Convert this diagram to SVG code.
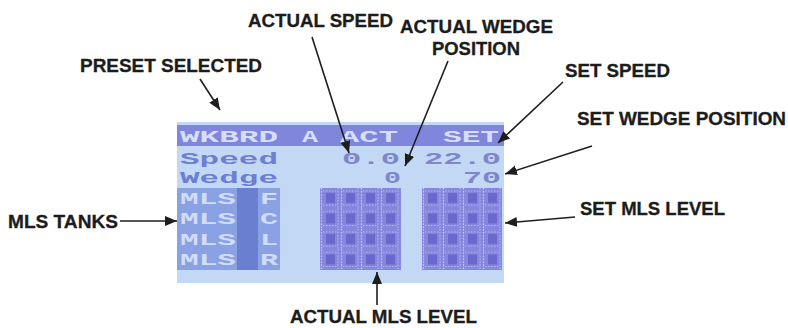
<svg xmlns="http://www.w3.org/2000/svg" width="788" height="328" viewBox="0 0 788 328">
<style>
.lbl{font-family:"Liberation Sans",Arial,sans-serif;font-weight:bold;font-size:18px;fill:#1c1c1c;stroke:#1c1c1c;stroke-width:0.3}
.lcd{font-family:"Liberation Mono","DejaVu Sans Mono",monospace;font-weight:bold;font-size:17px}
.hd{fill:#d6def9}
.bd{fill:#6c7fd2}
.num{fill:#7f86c9}
.mls{fill:#d0dcf8}
.con{stroke:#1e1e1e;stroke-width:1.6;fill:none;marker-end:url(#ah)}
</style>
<defs>
<marker id="ah" markerUnits="userSpaceOnUse" markerWidth="14" markerHeight="12" refX="12" refY="5" orient="auto">
<path d="M0,0 L12,5 L0,10 Z" fill="#1e1e1e"/>
</marker>
<pattern id="bars" patternUnits="userSpaceOnUse" x="320" y="188" width="20" height="20.5">
<rect width="20" height="20.5" fill="#8586dc"/>
<rect x="6" y="5" width="9" height="10" fill="#6a68cc"/>
<line x1="1.5" y1="0" x2="1.5" y2="20.5" stroke="#cdd4fa" stroke-width="1.2" stroke-dasharray="1.5,1.5"/>
<line x1="18" y1="0" x2="18" y2="20.5" stroke="#b9c0f4" stroke-width="1" stroke-dasharray="1.5,1.5"/>
<line x1="3" y1="3" x2="17" y2="3" stroke="#b4bcf2" stroke-width="1" stroke-dasharray="1.5,1.5"/>
<line x1="3" y1="17" x2="17" y2="17" stroke="#b4bcf2" stroke-width="1" stroke-dasharray="1.5,1.5"/>
</pattern>
<pattern id="bars2" href="#bars" x="422"/>
</defs>
<rect width="788" height="328" fill="#ffffff"/>

<g id="screen">
<rect x="177" y="122" width="327" height="161" fill="#c3d8f4"/>
<rect x="177" y="125" width="327" height="21" fill="#7f86dc"/>
<rect x="177" y="188" width="103" height="82" fill="#8aa1e3"/>
<rect x="237" y="188" width="21" height="82" fill="#6b7fd0"/>
<rect x="320" y="188" width="81" height="82" fill="url(#bars)"/>
<rect x="422" y="188" width="80" height="82" fill="url(#bars2)"/>
<g class="lcd">
<text class="hd" x="180" y="142" textLength="98" lengthAdjust="spacingAndGlyphs">WKBRD</text>
<text class="hd" x="302" y="142" textLength="16" lengthAdjust="spacingAndGlyphs">A</text>
<text class="hd" x="340" y="142" textLength="58" lengthAdjust="spacingAndGlyphs">ACT</text>
<text class="hd" x="443" y="142" textLength="56" lengthAdjust="spacingAndGlyphs">SET</text>
<text class="bd" x="180" y="164" textLength="98" lengthAdjust="spacingAndGlyphs">Speed</text>
<text class="num" x="342" y="164" textLength="58" lengthAdjust="spacingAndGlyphs">0.0</text>
<text class="num" x="424" y="164" textLength="77" lengthAdjust="spacingAndGlyphs">22.0</text>
<text class="bd" x="180" y="183" textLength="98" lengthAdjust="spacingAndGlyphs">Wedge</text>
<text class="num" x="384" y="183" textLength="17" lengthAdjust="spacingAndGlyphs">0</text>
<text class="num" x="463" y="183" textLength="38" lengthAdjust="spacingAndGlyphs">70</text>
<text class="mls" x="180" y="204" textLength="56" lengthAdjust="spacingAndGlyphs">MLS</text>
<text class="mls" x="260" y="204" textLength="18" lengthAdjust="spacingAndGlyphs">F</text>
<text class="mls" x="180" y="224" textLength="56" lengthAdjust="spacingAndGlyphs">MLS</text>
<text class="mls" x="260" y="224" textLength="18" lengthAdjust="spacingAndGlyphs">C</text>
<text class="mls" x="180" y="245" textLength="56" lengthAdjust="spacingAndGlyphs">MLS</text>
<text class="mls" x="260" y="245" textLength="18" lengthAdjust="spacingAndGlyphs">L</text>
<text class="mls" x="180" y="265" textLength="56" lengthAdjust="spacingAndGlyphs">MLS</text>
<text class="mls" x="260" y="265" textLength="18" lengthAdjust="spacingAndGlyphs">R</text>
</g>
</g>

<g id="preset-selected"><text class="lbl" x="80" y="72" textLength="182" lengthAdjust="spacingAndGlyphs">PRESET SELECTED</text></g>
<g id="actual-speed"><text class="lbl" x="248" y="27" textLength="145" lengthAdjust="spacingAndGlyphs">ACTUAL SPEED</text></g>
<g id="actual-wedge-position">
<text class="lbl" x="400" y="33" textLength="153" lengthAdjust="spacingAndGlyphs">ACTUAL WEDGE</text>
<text class="lbl" x="432" y="55" textLength="88" lengthAdjust="spacingAndGlyphs">POSITION</text>
</g>
<g id="set-speed"><text class="lbl" x="565" y="77" textLength="105" lengthAdjust="spacingAndGlyphs">SET SPEED</text></g>
<g id="set-wedge-position"><text class="lbl" x="577" y="125" textLength="209" lengthAdjust="spacingAndGlyphs">SET WEDGE POSITION</text></g>
<g id="mls-tanks"><text class="lbl" x="8" y="228" textLength="110" lengthAdjust="spacingAndGlyphs">MLS TANKS</text></g>
<g id="set-mls-level"><text class="lbl" x="580" y="215" textLength="145" lengthAdjust="spacingAndGlyphs">SET MLS LEVEL</text></g>
<g id="actual-mls-level"><text class="lbl" x="290" y="323" textLength="187" lengthAdjust="spacingAndGlyphs">ACTUAL MLS LEVEL</text></g>

<g id="connectors">
<line class="con" x1="200" y1="79" x2="220" y2="110"/>
<line class="con" x1="312" y1="37" x2="349" y2="153"/>
<line class="con" x1="448" y1="61" x2="405" y2="166"/>
<line class="con" x1="563" y1="82" x2="498" y2="143"/>
<line class="con" x1="592" y1="146" x2="505" y2="174"/>
<line class="con" x1="120" y1="221" x2="177" y2="221"/>
<line class="con" x1="575" y1="217" x2="505" y2="223"/>
<line class="con" x1="377" y1="305" x2="377" y2="272"/>
</g>
</svg>
